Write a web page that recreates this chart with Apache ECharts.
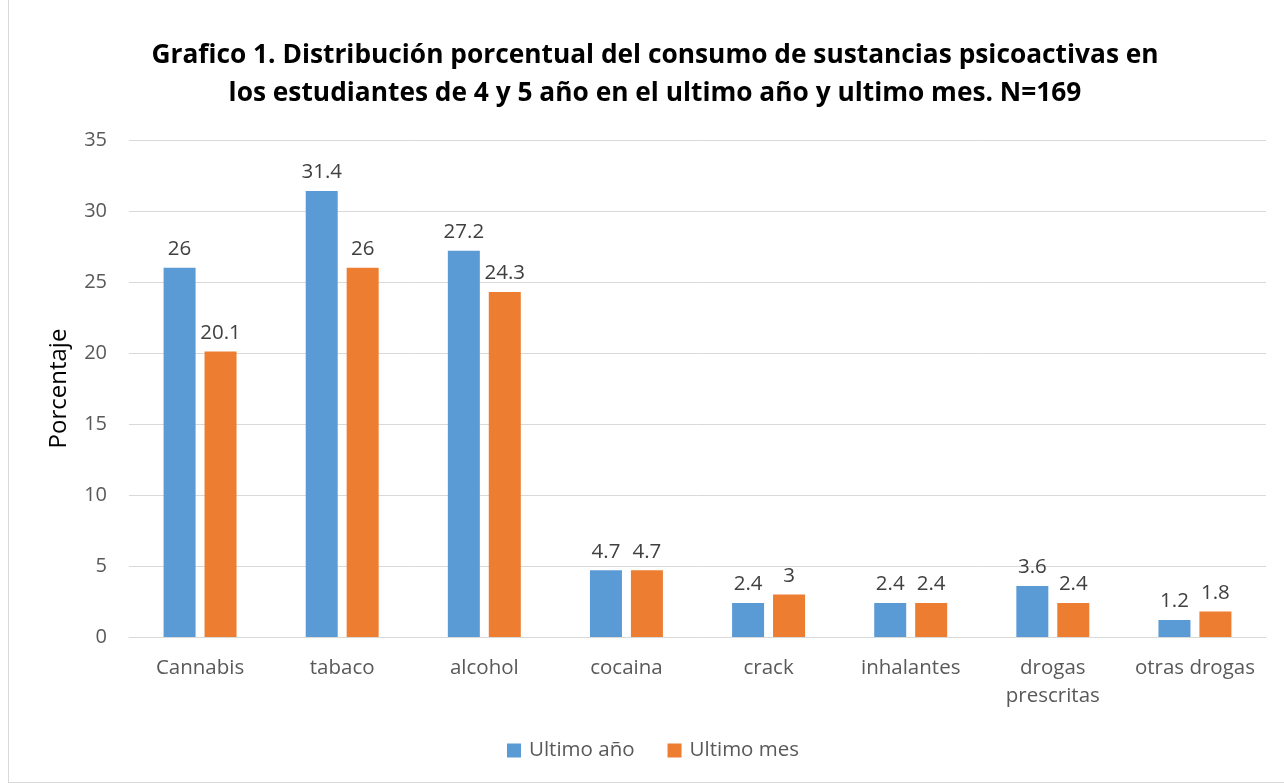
<!DOCTYPE html>
<html><head><meta charset="utf-8">
<script src="https://cdn.jsdelivr.net/npm/echarts@6/dist/echarts.min.js"></script>
<style>
html,body{margin:0;padding:0;background:#fff;}
#wrap{position:absolute;left:8px;top:0;width:1276px;height:783px;box-sizing:border-box;border:1px solid #d9d9d9;border-top:none;border-right:none;}
#c{position:absolute;left:0;top:0;width:1284px;height:783px;}
</style></head>
<body>
<div id="wrap"></div>
<div id="c"></div>
<script>
var categories = ['Cannabis','tabaco','alcohol','cocaina','crack','inhalantes','drogas\nprescritas','otras drogas'];
var ultimoAnio = [26, 31.4, 27.2, 4.7, 2.4, 2.4, 3.6, 1.2];
var ultimoMes = [20.1, 26, 24.3, 4.7, 3, 2.4, 2.4, 1.8];
var yTicks = [0, 5, 10, 15, 20, 25, 30, 35];

var chart = echarts.init(document.getElementById('c'), null, {renderer:'canvas'});
var font = 'Open Sans';
var lbl = {show:true, position:'top', distance:8, color:'#404040', fontSize:20.5, fontFamily:font};
chart.setOption({
  animation:false,
  title:{
    text:'Grafico 1. Distribución porcentual del consumo de sustancias psicoactivas en\nlos estudiantes de 4 y 5 año en el ultimo año y ultimo mes. N=169',
    left:650, top:32, textAlign:'center',
    textStyle:{fontFamily:font, fontWeight:'bold', fontSize:26.3, color:'#000', lineHeight:38}
  },
  legend:{
    bottom:17, left:502, itemWidth:14, itemHeight:14, itemGap:33,
    icon:'rect',
    textStyle:{fontFamily:font, fontSize:20.5, color:'#595959', padding:[0,0,0,3]},
    data:['Ultimo año','Ultimo mes']
  },
  grid:{left:129, right:18, top:140, bottom:146, containLabel:false},
  xAxis:{
    type:'category', data:categories,
    axisLine:{lineStyle:{color:'#d9d9d9', width:1}},
    axisTick:{show:false},
    axisLabel:{color:'#595959', fontSize:20.5, fontFamily:font, margin:17, lineHeight:28, interval:0}
  },
  yAxis:{
    type:'value', min:0, max:35, interval:5,
    name:'Porcentaje', nameLocation:'middle', nameGap:58, nameRotate:90,
    nameTextStyle:{fontFamily:font, fontSize:24, color:'#000'},
    axisLine:{show:false}, axisTick:{show:false},
    axisLabel:{color:'#595959', fontSize:20, fontFamily:font, margin:22, formatter:function(v){return yTicks.indexOf(v)>=0?String(v):'';}},
    splitLine:{lineStyle:{color:'#d9d9d9', width:1}}
  },
  series:[
    {name:'Ultimo año', type:'bar', data:ultimoAnio, barWidth:32, barGap:'28%', itemStyle:{color:'#5b9bd5'}, label:lbl},
    {name:'Ultimo mes', type:'bar', data:ultimoMes, barWidth:32, barGap:'28%', itemStyle:{color:'#ed7d31'}, label:lbl}
  ]
});
</script>
</body></html>
